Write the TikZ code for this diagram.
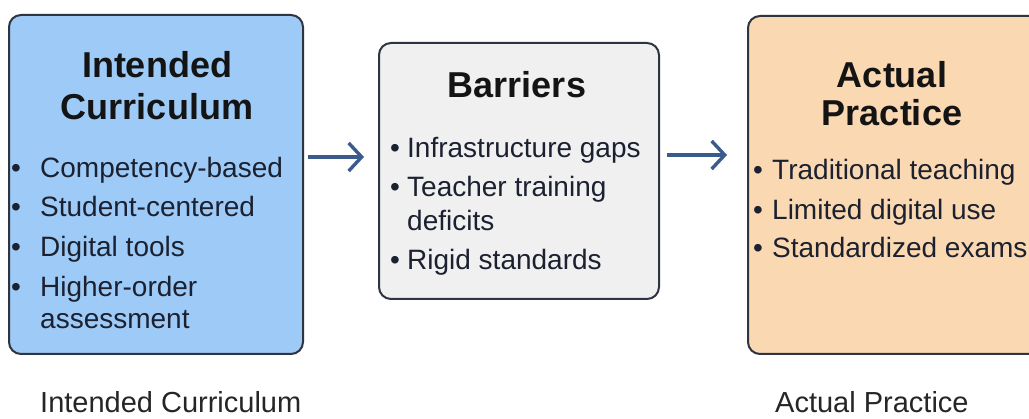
\documentclass[tikz,border=0pt]{standalone}
\usepackage{fontspec}
\setmainfont{Liberation Sans}
\usetikzlibrary{arrows.meta}
\definecolor{bluefill}{HTML}{9DCAF6}
\definecolor{greyfill}{HTML}{F0F0F0}
\definecolor{peachfill}{HTML}{FAD8B1}
\definecolor{edgedark}{HTML}{2E3540}
\definecolor{arrowblue}{HTML}{3B5B8C}
\definecolor{textdark}{HTML}{1B2130}
\tikzset{
  panel/.style={draw=edgedark, line width=2pt, rounded corners=12pt, inner sep=0pt},
  ttl/.style={font=\fontsize{36}{36}\selectfont\bfseries, text=black!92, anchor=base, inner sep=0pt},
  item/.style={font=\fontsize{28}{28}\selectfont, text=textdark, anchor=base west, inner sep=0pt},
  caption/.style={font=\fontsize{29}{29}\selectfont, text=black!85, anchor=base west, inner sep=0pt},
  flow/.style={draw=arrowblue, line width=3.6pt, -{Straight Barb[length=13pt,width=28pt,line width=3.4pt]}}
}
\newcommand\bul[2]{\makebox[#1][l]{•}#2}
\begin{document}
\begin{tikzpicture}[x=1pt,y=-1pt]
  \clip (0,0) rectangle (1029,419);
  \fill[white] (0,0) rectangle (1029,419);

  % panels
  \node[panel, fill=bluefill, minimum width=294pt, minimum height=339pt, anchor=north west] (intended) at (8,14) {};
  \node[panel, fill=greyfill, minimum width=280pt, minimum height=256pt, anchor=north west] (barriers) at (378,42) {};
  \node[panel, fill=peachfill, minimum width=300pt, minimum height=338pt, anchor=north west] (actual) at (747,15) {};

  % intended curriculum
  \node[ttl] (t1a) at (157,78) {Intended};
  \node[ttl] (t1b) at (157,120) {Curriculum};
  \node[item] (i1) at (11,178) {\bul{29pt}{Competency-based}};
  \node[item] (i2) at (11,217) {\bul{29pt}{Student-centered}};
  \node[item] (i3) at (11,257) {\bul{29pt}{Digital tools}};
  \node[item] (i4) at (11,297) {\bul{29pt}{Higher-order}};
  \node[item] (i5) at (40,329) {assessment};

  % barriers
  \node[ttl] (t2) at (517,98) {Barriers};
  \node[item] (b1) at (390,158) {\bul{17pt}{Infrastructure gaps}};
  \node[item] (b2) at (390,197) {\bul{17pt}{Teacher training}};
  \node[item] (b3) at (407,231) {deficits};
  \node[item] (b4) at (390,270) {\bul{17pt}{Rigid standards}};

  % actual practice
  \node[ttl] (t3a) at (892,88) {Actual};
  \node[ttl] (t3b) at (892,126) {Practice};
  \node[item] (a1) at (753,180) {\bul{19pt}{Traditional teaching}};
  \node[item] (a2) at (753,220) {\bul{19pt}{Limited digital use}};
  \node[item] (a3) at (753,258) {\bul{19pt}{Standardized exams}};

  % flow arrows between panels
  \coordinate (f1s) at (308,157);
  \coordinate (f1e) at (364,157);
  \coordinate (f2s) at (667,155);
  \coordinate (f2e) at (727,155);
  \draw[flow] (f1s) -- (f1e);
  \draw[flow] (f2s) -- (f2e);

  % captions under the panels
  \node[caption] (c1) at (40,413) {Intended Curriculum};
  \node[caption] (c2) at (775,413) {Actual Practice};
\end{tikzpicture}
\end{document}
